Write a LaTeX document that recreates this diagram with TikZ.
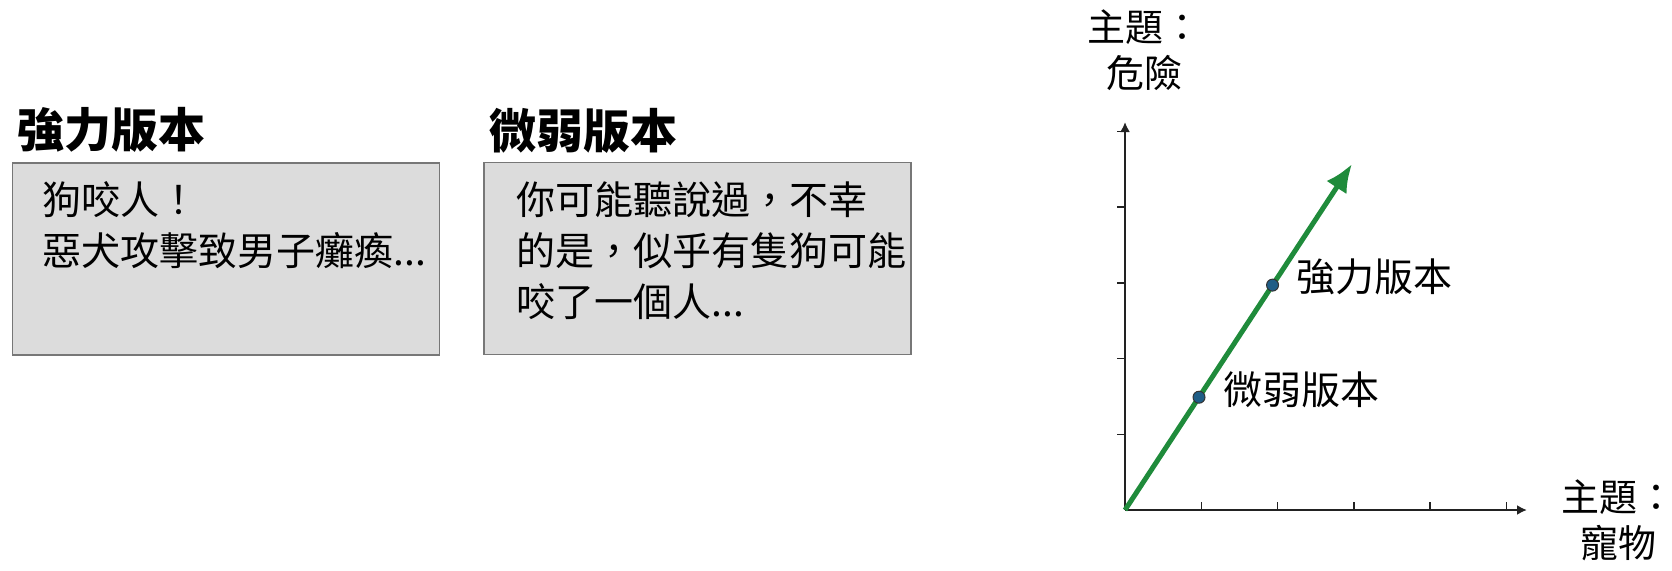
\documentclass[tikz,border=0pt]{standalone}
\usepackage{fontspec}
\usepackage{xcolor}
\usepackage{tikz}
\usetikzlibrary{arrows.meta}
\usetikzlibrary{calc}
\usetikzlibrary{positioning}
\newfontfamily\cjk{Noto Sans CJK TC}
\definecolor{boxfill}{HTML}{DCDCDC}
\definecolor{boxline}{HTML}{777777}
\definecolor{vecgreen}{HTML}{1F8B3B}
\definecolor{ptblue}{HTML}{1F5D86}
\definecolor{axiscolor}{HTML}{222222}

\begin{document}
\begin{tikzpicture}[x=1pt,y=-1pt,
  msgbox/.style={draw=boxline,fill=boxfill,line width=1.5pt,minimum width=427pt,minimum height=192pt,inner sep=0pt},
  msgtext/.style={anchor=north west,inner sep=0pt,align=left,font=\cjk\fontsize{39}{51}\selectfont},
  headline/.style={anchor=west,inner sep=0pt,font=\cjk\fontsize{47}{50}\selectfont\bfseries},
  axislabel/.style={anchor=north,inner sep=0pt,align=center,font=\cjk\fontsize{38}{46}\selectfont},
  ptlabel/.style={inner sep=0pt,font=\cjk\fontsize{39}{46}\selectfont},
  dot/.style={circle,fill=ptblue,draw=black!80,line width=1pt,minimum size=12pt,inner sep=0pt}]
\useasboundingbox (0,0) rectangle (1672,570);

% two versions of the message
\node[msgbox] (strongbox) at (226,259) {};
\node[headline] (stronghead) at ([shift={(6,-32)}]strongbox.north west) {強力版本};
\node[msgtext] (strongtext) at ([shift={(31,19)}]strongbox.north west) {狗咬人！\\惡犬攻擊致男子癱瘓...};

\node[msgbox] (weakbox) at (697.5,258.5) {};
\node[headline] (weakhead) at ([shift={(6,-31)}]weakbox.north west) {微弱版本};
\node[msgtext] (weaktext) at ([shift={(33,20)}]weakbox.north west) {你可能聽說過，不幸\\的是，似乎有隻狗可能\\咬了一個人...};

% axes
\coordinate (O) at (1125,510);
\coordinate (xend) at (1527,510);
\coordinate (yend) at (1125,122);
\coordinate (tip) at (1352,164);
\draw[axiscolor,line width=2pt,-{Latex[length=10pt,width=10pt]}] (O) -- (xend);
\draw[axiscolor,line width=2pt,-{Latex[length=10pt,width=10pt]}] (O) -- (yend);
\foreach \k in {1,...,5}
  \draw[axiscolor,line width=1.5pt] ($(O)+(76.3*\k,0)$) -- ++(0,-8);
\foreach \k in {1,...,5}
  \draw[axiscolor,line width=1.5pt] ($(O)+(0,-75.7*\k)$) -- ++(-8,0);
\node[axislabel] (ylabel) at (1144,10) {主題：\\危險};
\node[axislabel] (xlabel) at (1618,480) {主題：\\寵物};

% topic vector
\draw[vecgreen,line width=5pt,-{Latex[length=28pt,width=24pt]}] (O) -- (tip);
\node[dot] (weakpt) at ($(O)!0.326!(tip)$) {};
\node[dot] (strongpt) at ($(O)!0.65!(tip)$) {};
\node[ptlabel,right=18pt of weakpt,yshift=7pt] (weaklabel) {微弱版本};
\node[ptlabel,right=17pt of strongpt,yshift=8pt] (stronglabel) {強力版本};
\end{tikzpicture}
\end{document}
